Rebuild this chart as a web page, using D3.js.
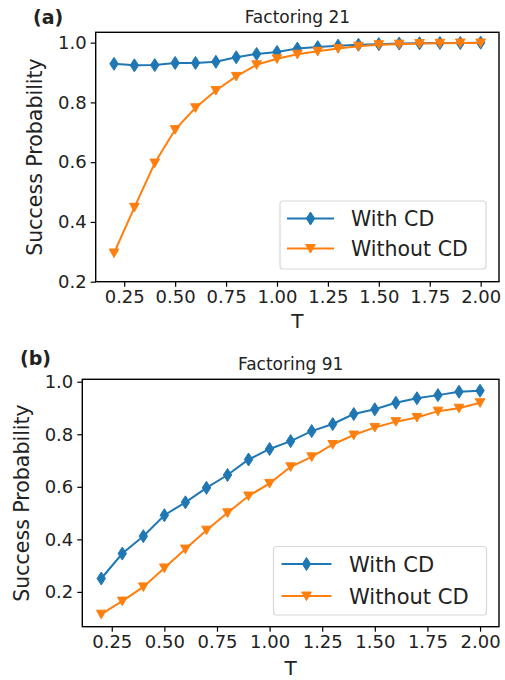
<!DOCTYPE html>
<html><head><meta charset="utf-8">
<script src="https://cdn.jsdelivr.net/npm/d3@7"></script>
<style>
html,body{margin:0;padding:0;background:#fff;}
svg{display:block;}
text{font-family:"DejaVu Sans",sans-serif;fill:#222;}
</style></head>
<body><div id="chart"></div>
<script>
const T = [0.2,0.3,0.4,0.5,0.6,0.7,0.8,0.9,1.0,1.1,1.2,1.3,1.4,1.5,1.6,1.7,1.8,1.9,2.0];
const withCD21 = [0.929,0.924,0.925,0.932,0.932,0.936,0.951,0.962,0.969,0.980,0.985,0.990,0.993,0.995,0.997,0.998,0.999,0.999,1.000];
const withoutCD21 = [0.296,0.449,0.597,0.709,0.782,0.840,0.887,0.926,0.946,0.961,0.971,0.980,0.988,0.993,0.995,0.997,0.998,0.999,0.999];
const withCD91 = [0.251,0.346,0.412,0.492,0.541,0.596,0.645,0.704,0.744,0.774,0.812,0.839,0.877,0.895,0.920,0.937,0.949,0.962,0.966];
const withoutCD91 = [0.115,0.165,0.219,0.291,0.363,0.435,0.501,0.565,0.613,0.676,0.714,0.761,0.797,0.826,0.848,0.864,0.888,0.899,0.920];
const xTicks = [0.25,0.50,0.75,1.00,1.25,1.50,1.75,2.00];
const yTicks = [0.2,0.4,0.6,0.8,1.0];
const seriesNames = ["With CD","Without CD"];
const colors = ["#1f77b4","#ff7f0e"];

const svg = d3.select("#chart").append("svg").attr("width",505).attr("height",680);

function panel(cfg){
  const x = d3.scaleLinear().domain([0.11,2.09]).range([cfg.left,cfg.right]);
  const y = d3.scaleLinear().domain(cfg.ydom).range([cfg.bottom,cfg.top]);
  const g = svg.append("g");
  const xa = g.append("g").attr("transform",`translate(0,${cfg.bottom})`)
    .call(d3.axisBottom(x).tickValues(xTicks).tickFormat(d3.format(".2f")).tickSizeOuter(0).tickSize(5).tickPadding(4));
  const ya = g.append("g").attr("transform",`translate(${cfg.left},0)`)
    .call(d3.axisLeft(y).tickValues(yTicks).tickFormat(d3.format(".1f")).tickSizeOuter(0).tickSize(5).tickPadding(4));
  [xa,ya].forEach(a=>{
    a.select(".domain").remove();
    a.selectAll(".tick line").attr("stroke","#000").attr("stroke-width",1.2);
    a.selectAll(".tick text").attr("font-size",18).attr("fill","#222").style("font-family","DejaVu Sans");
  });
  g.append("rect").attr("x",cfg.left).attr("y",cfg.top)
    .attr("width",cfg.right-cfg.left).attr("height",cfg.bottom-cfg.top)
    .attr("fill","none").attr("stroke","#000").attr("stroke-width",1.4);
  const data = [cfg.s1,cfg.s2];
  const line = d3.line().x((d,i)=>x(T[i])).y(d=>y(d));
  const diamond = "M0,-6.5L4.2,0L0,6.5L-4.2,0Z";
  const tri = "M-4.8,-4L4.8,-4L0,4.6Z";
  data.forEach((s,k)=>{
    g.append("path").datum(s).attr("d",line).attr("fill","none")
      .attr("stroke",colors[k]).attr("stroke-width",2);
    g.selectAll(null).data(s).enter().append("path")
      .attr("d",k===0?diamond:tri)
      .attr("transform",(d,i)=>`translate(${x(T[i])},${y(d)})`)
      .attr("fill",colors[k]).attr("stroke",colors[k]).attr("stroke-width",1);
  });
  g.append("text").attr("x",(cfg.left+cfg.right)/2).attr("y",cfg.top-9)
    .attr("text-anchor","middle").attr("font-size",17).attr("fill","#333").text(cfg.title);
  g.append("text").attr("x",cfg.labX).attr("y",cfg.labY).attr("font-size",19)
    .attr("font-weight","bold").attr("fill","#111").text(cfg.label);
  g.append("text").attr("x",(cfg.left+cfg.right)/2).attr("y",cfg.bottom+cfg.tOff)
    .attr("text-anchor","middle").attr("font-size",20).text("T");
  g.append("text").attr("transform",`translate(${cfg.ylabX},${(cfg.top+cfg.bottom)/2}) rotate(-90)`)
    .attr("text-anchor","middle").attr("font-size",20.5).text("Success Probability");
  const L = cfg.legend;
  const lg = g.append("g");
  lg.append("rect").attr("x",L.x).attr("y",L.y).attr("width",L.w).attr("height",L.h)
    .attr("rx",3).attr("fill","#fff").attr("fill-opacity",0.85).attr("stroke","#d8d8d8").attr("stroke-width",1.2);
  seriesNames.forEach((n,k)=>{
    const yy = L.y + 17.5 + k*L.gap;
    lg.append("line").attr("x1",L.x+L.l1).attr("x2",L.x+L.l2).attr("y1",yy).attr("y2",yy)
      .attr("stroke",colors[k]).attr("stroke-width",2);
    lg.append("path").attr("d",k===0?diamond:tri).attr("transform",`translate(${L.x+(L.l1+L.l2)/2},${yy})`)
      .attr("fill",colors[k]).attr("stroke",colors[k]);
    lg.append("text").attr("x",L.x+L.tx).attr("y",yy+7.5).attr("font-size",L.fs).text(n);
  });
}

panel({id:"a",left:95.7,right:499,top:32.3,bottom:281.7,ydom:[0.2,1.0346],
  s1:withCD21,s2:withoutCD21,title:"Factoring 21",label:"(a)",labX:33,labY:24,ylabX:42,tOff:46,
  legend:{x:280,y:201,w:206,h:68,gap:30,l1:7,l2:54,tx:71,fs:20.5}});
panel({id:"b",left:82.3,right:499,top:379.3,bottom:626.7,ydom:[0.0675,1.0092],
  s1:withCD91,s2:withoutCD91,title:"Factoring 91",label:"(b)",labX:20,labY:365,ylabX:29,tOff:48,
  legend:{x:273.5,y:546.5,w:213,h:68.5,gap:32,l1:8,l2:58,tx:75.5,fs:21}});
</script></body></html>
